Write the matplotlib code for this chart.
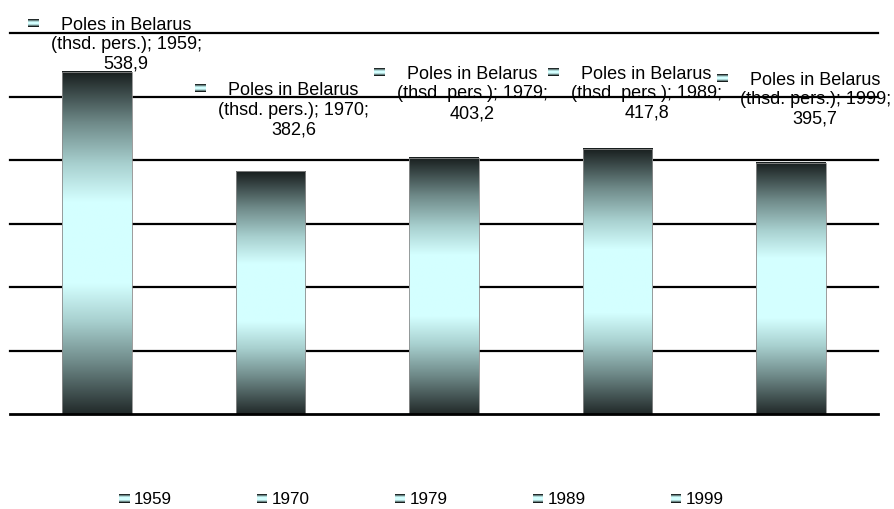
import numpy as np
import matplotlib
matplotlib.use("Agg")
import matplotlib.pyplot as plt
from matplotlib.colors import LinearSegmentedColormap
from matplotlib.patches import Rectangle
from matplotlib.legend_handler import HandlerBase
from matplotlib.offsetbox import OffsetImage, AnnotationBbox

plt.rcParams['font.family'] = ['Liberation Sans', 'DejaVu Sans']

years = ["1959", "1970", "1979", "1989", "1999"]
values = [538.9, 382.6, 403.2, 417.8, 395.7]
series_name = "Poles in Belarus\n(thsd. pers.)"
value_labels = ["538,9", "382,6", "403,2", "417,8", "395,7"]
y_ticks = [0, 100, 200, 300, 400, 500, 600]

# where each data label sits relative to its bar top (pixels)
label_dx = [29.5, 23, 28, 29, 24]
label_dy = [27, 61, 64, 55, 63]

grad = LinearSegmentedColormap.from_list("bar", [
    (0.0, "#222a2a"), (0.15, "#6f8a89"), (0.27, "#a8d0cf"), (0.38, "#d4ffff"),
    (0.62, "#d4ffff"), (0.73, "#a8d0cf"), (0.85, "#6f8a89"), (1.0, "#181e1e")])

fig = plt.figure(figsize=(8.94, 5.09), dpi=100)
ax = fig.add_axes([10 / 894, 1 - 414 / 509, 868 / 894, (414 - 33) / 509])

x = np.arange(len(years))
col = np.linspace(0, 1, 256).reshape(-1, 1)
for i, v in enumerate(values):
    ax.imshow(col, cmap=grad, extent=[x[i] - 0.2, x[i] + 0.2, v, 0],
              aspect="auto", zorder=3, interpolation="bilinear")
ax.bar(x, values, width=0.4, facecolor="none", edgecolor="#8c8c8c",
       linewidth=0.6, zorder=3.1)

for t in y_ticks[1:]:
    ax.axhline(t, color="black", lw=1.6, zorder=2.5, clip_on=False)

ax.set_xlim(-0.5, 4.5)
ax.set_ylim(0, 600)
ax.set_xticks([])
ax.set_yticks([])
for s in ["top", "left", "right"]:
    ax.spines[s].set_visible(False)
ax.spines["bottom"].set_linewidth(2)
ax.spines["bottom"].set_zorder(4)

# small gradient key icon
icon = grad(np.linspace(0, 1, 8))[:, :3]
icon = np.repeat(icon[:, None, :], 11, axis=1)

for i, v in enumerate(values):
    txt = f"{series_name}; {years[i]};\n{value_labels[i]}"
    ax.annotate(txt, xy=(x[i], v), xytext=(label_dx[i], label_dy[i]),
                textcoords="offset pixels", ha="center", va="center",
                fontsize=13, zorder=1, linespacing=1.2)
    ab = AnnotationBbox(OffsetImage(icon, zoom=0.72), (x[i], v),
                        xybox=(label_dx[i] - 93, label_dy[i] + 22),
                        boxcoords="offset pixels", frameon=False, pad=0)
    ab.set_zorder(1)
    ax.add_artist(ab)


class GradHandler(HandlerBase):
    def create_artists(self, legend, orig_handle, xdescent, ydescent,
                       width, height, fontsize, trans):
        n = 8
        arts = []
        for k in range(n):
            r = Rectangle((-xdescent, -ydescent + height * (n - 1 - k) / n),
                          width, height / n, facecolor=grad(k / (n - 1)),
                          edgecolor="none", transform=trans)
            arts.append(r)
        return arts


handles = [Rectangle((0, 0), 1, 1) for _ in years]
fig.legend(handles, years, handler_map={Rectangle: GradHandler()},
           loc="center", bbox_to_anchor=(421.5 / 894, 1 - 500 / 509),
           ncol=5, frameon=False, fontsize=12.3, handlelength=0.6,
           handleheight=0.47, handletextpad=0.25, columnspacing=5.0,
           borderpad=0)

fig.savefig("out.png", dpi=100)
